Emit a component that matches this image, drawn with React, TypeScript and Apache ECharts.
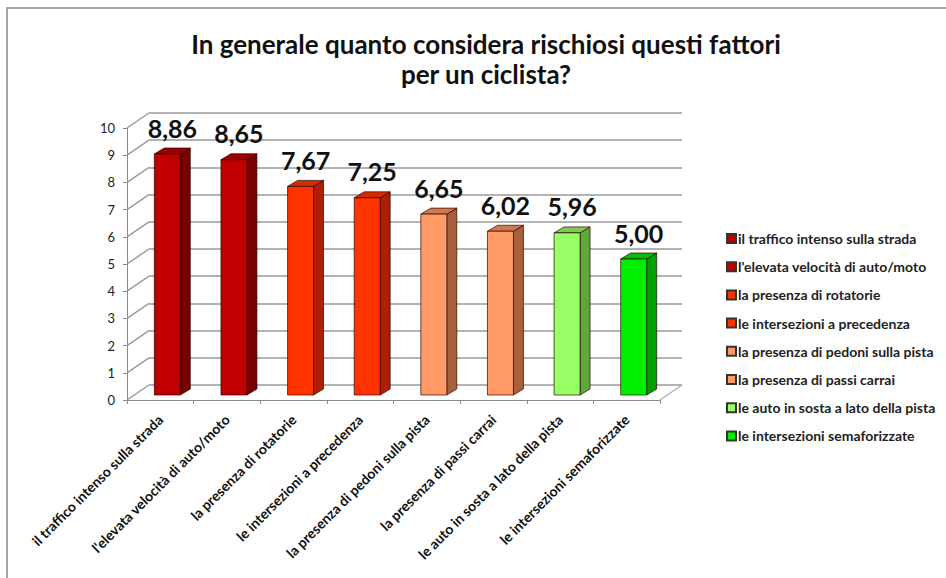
import React, { useEffect, useRef } from "react";
import * as echarts from "echarts";

const titleText = "In generale quanto considera rischiosi questi fattori\nper un ciclista?";
const categories = [
  "il traffico intenso sulla strada",
  "l'elevata velocità di auto/moto",
  "la presenza di rotatorie",
  "le intersezioni a precedenza",
  "la presenza di pedoni sulla pista",
  "la presenza di passi carrai",
  "le auto in sosta a lato della pista",
  "le intersezioni semaforizzate",
];
const values = [8.86, 8.65, 7.67, 7.25, 6.65, 6.02, 5.96, 5.0];
const frontColors = ["#C00000", "#C00000", "#FF3300", "#FF3300", "#FF9966", "#FF9966", "#99FF66", "#00EE00"];
const sideColors = ["#7A0000", "#7A0000", "#B02000", "#B02000", "#A8603C", "#A8603C", "#5FA83C", "#00A000"];
const topColors = ["#9C0000", "#9C0000", "#D42A00", "#D42A00", "#CC7A50", "#CC7A50", "#7CCC50", "#00C400"];
const yTicks = [0, 1, 2, 3, 4, 5, 6, 7, 8, 9, 10];

const FONT = "Lato, 'Open Sans', sans-serif";

export default function App() {
  const ref = useRef<HTMLDivElement>(null);
  useEffect(() => {
    const chart = echarts.init(ref.current!, undefined, { renderer: "svg" });
    const wallDx = 22, wallDy = -15;
    const barDx = 7, barDy = -5;
    const depthX = 10, depthY = -6;

    const barSeries = categories.map((name, k) => ({
      type: "custom",
      name,
      xAxisIndex: 0,
      yAxisIndex: 0,
      z: 5,
      itemStyle: { color: frontColors[k], borderColor: "#333", borderWidth: 1 },
      encode: { x: 0, y: 1 },
      data: [[k, values[k]]],
      renderItem: (params: any, api: any) => {
        const idx = api.value(0);
        const val = api.value(1);
        const band = api.size([1, 0])[0];
        const base = api.coord([idx, 0]);
        const top = api.coord([idx, val]);
        const w = band * 0.39;
        const x0 = base[0] - w / 2 + barDx;
        const x1 = x0 + w;
        const yb = base[1] + barDy;
        const yt = top[1] + barDy;
        const stroke = "rgba(40,0,0,0.85)";
        return {
          type: "group",
          children: [
            {
              type: "polygon",
              shape: { points: [[x1, yb], [x1 + depthX, yb + depthY], [x1 + depthX, yt + depthY], [x1, yt]] },
              style: { fill: sideColors[idx], stroke, lineWidth: 0.8 },
            },
            {
              type: "polygon",
              shape: { points: [[x0, yt], [x1, yt], [x1 + depthX, yt + depthY], [x0 + depthX, yt + depthY]] },
              style: { fill: topColors[idx], stroke, lineWidth: 0.8 },
            },
            {
              type: "rect",
              shape: { x: x0, y: yt, width: w, height: yb - yt },
              style: { fill: frontColors[idx], stroke, lineWidth: 0.8 },
            },
            {
              type: "text",
              style: {
                text: val.toFixed(2).replace(".", ","),
                x: (x0 + x1 + depthX) / 2,
                y: yt + depthY - 8,
                align: "center",
                verticalAlign: "bottom",
                font: `bold 25px ${FONT}`,
                fill: "#111",
              },
            },
          ],
        };
      },
    }));

    const option: any = {
      animation: false,
      backgroundColor: "#fff",
      title: {
        text: titleText,
        left: 481,
        textAlign: "center",
        top: 24,
        textStyle: { fontFamily: FONT, fontSize: 26, fontWeight: "bold", color: "#111", lineHeight: 30 },
      },
      graphic: [
        {
          type: "rect",
          shape: { x: 7, y: 8, width: 960, height: 600 },
          style: { fill: "none", stroke: "#8a8a8a", lineWidth: 1.5 },
          silent: true,
          z: -10,
        },
      ],
      legend: {
        orient: "vertical",
        left: 721,
        top: 225,
        itemWidth: 9,
        itemHeight: 9,
        itemGap: 11.2,
        icon: "rect",
        textStyle: { fontFamily: FONT, fontSize: 14, fontWeight: "bold", color: "#222", lineHeight: 17, padding: [0, 0, 0, -3] },
        data: categories,
      },
      grid: [
        { left: 127, right: 286, top: 128, bottom: 178 },
        { left: 127 + wallDx, right: 286 - wallDx, top: 128 + wallDy, bottom: 178 - wallDy },
      ],
      xAxis: [
        {
          type: "category",
          gridIndex: 0,
          data: categories,
          axisLine: { lineStyle: { color: "#8a8a8a", width: 1 } },
          axisTick: { show: true, length: 4, lineStyle: { color: "#8a8a8a" } },
          axisLabel: {
            rotate: 45,
            margin: 17,
            fontFamily: FONT,
            fontSize: 14,
            fontWeight: "bold",
            color: "#111",
            interval: 0,
          },
        },
        { type: "category", gridIndex: 1, data: categories, show: false },
      ],
      yAxis: [
        {
          type: "value",
          gridIndex: 0,
          min: 0,
          max: 10,
          interval: 1,
          axisLine: { show: true, lineStyle: { color: "#8a8a8a" } },
          axisTick: { show: true, length: 4, lineStyle: { color: "#8a8a8a" } },
          axisLabel: { fontFamily: FONT, fontSize: 13, color: "#222", margin: 12 },
          splitLine: { show: false },
        },
        {
          type: "value",
          gridIndex: 1,
          min: 0,
          max: 10,
          interval: 1,
          axisLine: { show: false },
          axisTick: { show: false },
          axisLabel: { show: false },
          splitLine: { show: true, lineStyle: { color: "#9a9a9a", width: 1.5 } },
        },
      ],
      series: [
        {
          type: "custom",
          name: "_walls",
          xAxisIndex: 0,
          yAxisIndex: 0,
          z: 1,
          silent: true,
          encode: { x: 0, y: 1 },
          data: yTicks.map((v) => [0, v]),
          renderItem: (params: any, api: any) => {
            const band = api.size([1, 0])[0];
            const p = api.coord([0, api.value(1)]);
            const x = p[0] - band / 2;
            return {
              type: "line",
              shape: { x1: x, y1: p[1], x2: x + wallDx, y2: p[1] + wallDy },
              style: { stroke: "#9a9a9a", lineWidth: 1.5 },
            };
          },
        },
        {
          type: "custom",
          name: "_floor",
          xAxisIndex: 0,
          yAxisIndex: 0,
          z: 1,
          silent: true,
          encode: { x: 0, y: 1 },
          data: [[categories.length - 1, 0]],
          renderItem: (params: any, api: any) => {
            const band = api.size([1, 0])[0];
            const p = api.coord([api.value(0), 0]);
            const x = p[0] + band / 2;
            return {
              type: "line",
              shape: { x1: x, y1: p[1], x2: x + wallDx, y2: p[1] + wallDy },
              style: { stroke: "#b0b0b0", lineWidth: 1.5 },
            };
          },
        },
        ...barSeries,
      ],
    };
    chart.setOption(option);
    return () => chart.dispose();
  }, []);
  return <div ref={ref} style={{ position: "fixed", left: 0, top: 0, width: 946, height: 578 }} />;
}
